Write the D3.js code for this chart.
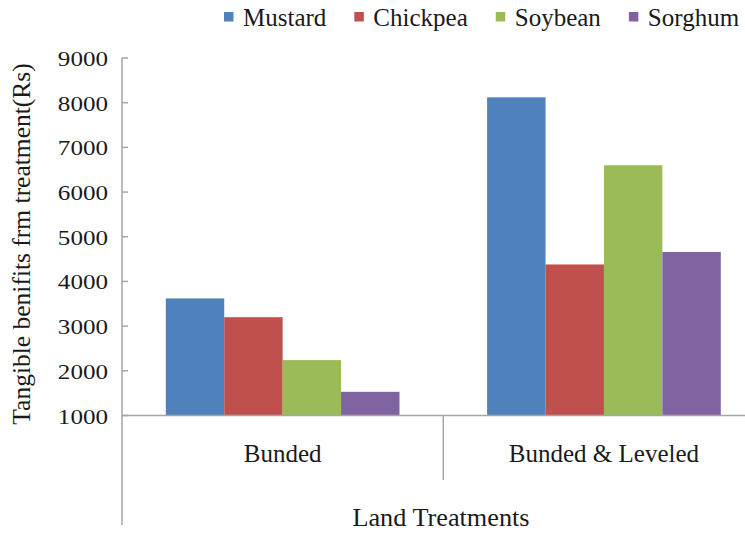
<!DOCTYPE html>
<html>
<head>
<meta charset="utf-8">
<script src="https://cdn.jsdelivr.net/npm/d3@7"></script>
<style>
  html, body { margin: 0; padding: 0; background: #fff; }
  svg { display: block; }
  text { font-family: "Liberation Serif", "Times New Roman", serif; fill: #1a1a1a; }
</style>
</head>
<body>
<svg id="chart" width="745" height="533"></svg>
<script>
const categories = ["Bunded", "Bunded & Leveled"];
const seriesNames = ["Mustard", "Chickpea", "Soybean", "Sorghum"];
const mustard  = [3620, 8120];
const chickpea = [3200, 4380];
const soybean  = [2240, 6600];
const sorghum  = [1530, 4660];
const yTicks = [1000, 2000, 3000, 4000, 5000, 6000, 7000, 8000, 9000];
const colors = ["#4F81BD", "#C0504D", "#9BBB59", "#8064A2"];
const yTitle = "Tangible benifits frm treatment(Rs)";
const xTitle = "Land Treatments";

const seriesValues = [mustard, chickpea, soybean, sorghum];

const svg = d3.select("#chart");
const axisColor = "#a6a6a6";

const plotLeft = 122, plotRight = 764.6, plotTop = 58, plotBottom = 415.5;

const y = d3.scaleLinear().domain([1000, 9000]).range([plotBottom, plotTop]);
const x0 = d3.scaleBand().domain(categories).range([plotLeft, plotRight]).padding(0);
const bw = x0.bandwidth();
const edge = bw * 0.75 / 5.5;
const x1 = d3.scaleBand().domain(seriesNames).range([edge, bw - edge]).padding(0);

// bars
const rows = [];
categories.forEach((c, ci) => {
  seriesNames.forEach((s, si) => {
    rows.push({cat: c, series: s, value: seriesValues[si][ci], color: colors[si]});
  });
});
svg.append("g").selectAll("rect").data(rows).join("rect")
  .attr("x", d => x0(d.cat) + x1(d.series))
  .attr("y", d => y(d.value))
  .attr("width", x1.bandwidth())
  .attr("height", d => y(1000) - y(d.value))
  .attr("fill", d => d.color);

// y axis line (extended down as in the reference)
svg.append("line")
  .attr("x1", plotLeft).attr("x2", plotLeft)
  .attr("y1", plotTop).attr("y2", 525)
  .attr("stroke", axisColor).attr("stroke-width", 1.5);

// ticks (inside)
svg.append("g").selectAll("line").data(yTicks).join("line")
  .attr("x1", plotLeft).attr("x2", plotLeft + 6)
  .attr("y1", d => y(d)).attr("y2", d => y(d))
  .attr("stroke", axisColor).attr("stroke-width", 1.5);

// tick labels
svg.append("g").selectAll("text").data(yTicks).join("text")
  .attr("text-anchor", "end")
  .attr("font-size", 22)
  .attr("transform", d => `translate(108,${y(d) + 8}) scale(1.14,1)`)
  .text(d => d);

// baseline
svg.append("line")
  .attr("x1", plotLeft).attr("x2", 745)
  .attr("y1", y(1000)).attr("y2", y(1000))
  .attr("stroke", axisColor).attr("stroke-width", 1.5);

// category separator
svg.append("line")
  .attr("x1", x0(categories[1])).attr("x2", x0(categories[1]))
  .attr("y1", y(1000)).attr("y2", 480)
  .attr("stroke", axisColor).attr("stroke-width", 1.5);

// category labels
svg.append("g").selectAll("text").data(categories).join("text")
  .attr("text-anchor", "middle")
  .attr("font-size", 25)
  .attr("x", d => x0(d) + bw / 2)
  .attr("y", 462)
  .text(d => d);

// x title
svg.append("text")
  .attr("text-anchor", "middle")
  .attr("font-size", 25)
  .attr("transform", "translate(441,526) scale(1.05,1)")
  .text(xTitle);

// y title
svg.append("text")
  .attr("text-anchor", "middle")
  .attr("font-size", 25.5)
  .attr("transform", "translate(30,244) rotate(-90)")
  .text(yTitle);

// legend
const legend = svg.append("g");
let lx = 224;
seriesNames.forEach((s, i) => {
  legend.append("rect")
    .attr("x", lx).attr("y", 12)
    .attr("width", 9.5).attr("height", 9.5)
    .attr("fill", colors[i]);
  const t = legend.append("text")
    .attr("x", lx + 19).attr("y", 26)
    .attr("font-size", 25)
    .text(s);
  const w = t.node().getComputedTextLength();
  lx = lx + 19 + w + 28;
});
</script>
</body>
</html>
